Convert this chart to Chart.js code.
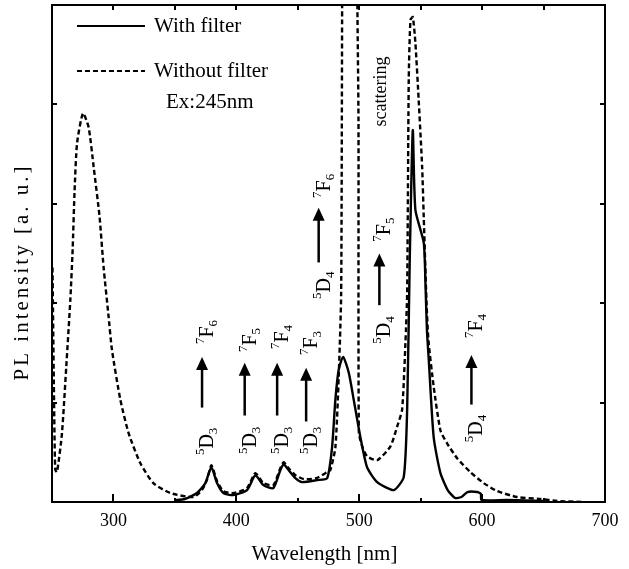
<!DOCTYPE html>
<html>
<head>
<meta charset="utf-8">
<script src="https://cdn.jsdelivr.net/npm/chart.js@4/dist/chart.umd.min.js"></script>
<style>
  html, body { margin: 0; padding: 0; background: #fff; }
  #wrap { width: 629px; height: 569px; position: relative; }
</style>
</head>
<body>
<div id="wrap"><canvas id="chart"></canvas></div>
<script>
// spectra (wavelength nm, intensity a.u.)
const withFilterX = [350, 358, 368, 374.8, 379.7, 384.3, 389.4, 397.6, 408.7, 415.5, 422, 430.1, 435.8, 438.5, 442.6, 448, 453.5, 465.7, 473.9, 477.9, 480.6, 483.3, 486.9, 491.5, 495.5, 501, 506.4, 514.6, 528.1, 536.2, 539, 541.1, 543.6, 545.7, 552.5, 553.9, 555.1, 556.6, 560.6, 566.1, 572, 578, 583, 588, 596, 599, 599.5, 620, 650];
const withFilterY = [0.02, 0.03, 0.09, 0.19, 0.35, 0.19, 0.09, 0.07, 0.12, 0.27, 0.17, 0.14, 0.32, 0.38, 0.32, 0.24, 0.2, 0.22, 0.24, 0.55, 1.03, 1.33, 1.46, 1.3, 1.03, 0.65, 0.35, 0.2, 0.12, 0.25, 0.93, 2.43, 3.74, 2.94, 2.61, 2.2, 1.73, 1.43, 0.65, 0.29, 0.12, 0.04, 0.05, 0.1, 0.1, 0.08, 0.02, 0.02, 0.01];

const withoutFilterX = [250.4, 251.5, 252.6, 254.1, 258.1, 261.6, 264.9, 266.8, 268.4, 270.4, 275.2, 279.8, 283.9, 288.7, 292, 296.1, 298.8, 305.6, 312.4, 321.9, 332.5, 346.3, 365, 372, 376, 379.7, 384.3, 389.4, 397.6, 408.7, 415.5, 422, 430.1, 435.8, 438.5, 442.6, 448, 455, 465, 473.9, 476.5, 480.6, 483.3, 485.3, 486.1, 487, 492, 498, 498.5, 499.4, 499.7, 502.4, 506.4, 514.6, 525.4, 530.9, 534.9, 537.6, 539, 540.3, 541.7, 543.6, 545.7, 548.4, 551.2, 552.5, 554.7, 556.3, 560.6, 566.1, 571.5, 579.7, 590.5, 601.3, 612.3, 628.5, 647.5, 661, 683];
const withoutFilterY = [2.36, 1.2, 0.33, 0.3, 0.69, 1.36, 2.03, 2.54, 3.14, 3.61, 3.91, 3.77, 3.37, 2.87, 2.36, 1.86, 1.53, 1.03, 0.69, 0.39, 0.19, 0.09, 0.05, 0.12, 0.22, 0.37, 0.21, 0.11, 0.09, 0.14, 0.29, 0.19, 0.17, 0.34, 0.4, 0.34, 0.27, 0.23, 0.24, 0.3, 0.32, 0.55, 1.26, 2.1, 5.0, 8, 9, 6, 5.0, 3.84, 0.7, 0.56, 0.46, 0.42, 0.56, 0.76, 0.93, 1.6, 2.1, 4.25, 4.85, 4.88, 4.62, 4.04, 3.37, 2.87, 2.03, 1.63, 1.16, 0.72, 0.59, 0.44, 0.3, 0.19, 0.11, 0.05, 0.03, 0.01, 0.0];

const xTickLabels = [300, 400, 500, 600, 700];
const xMinorTicks = [300, 350, 400, 450, 500, 550, 600, 650];
const yTicks = [1, 2, 3, 4];

// transitions: arrow at wavelength, from/to intensity, labels (upper, lower) with their centre intensity
const arrowX    = [372.1, 406.8, 433.2, 456.8, 467, 516.4, 591.3];
const arrowFrom = [0.95, 0.87, 0.87, 0.81, 2.41, 1.98, 0.98];
const arrowTo   = [1.46, 1.40, 1.40, 1.35, 2.96, 2.50, 1.48];
const upperLab  = [['7','F','6'], ['7','F','5'], ['7','F','4'], ['7','F','3'], ['7','F','6'], ['7','F','5'], ['7','F','4']];
const upperY    = [1.71, 1.63, 1.66, 1.60, 3.18, 2.74, 1.77];
const lowerLab  = [['5','D','3'], ['5','D','3'], ['5','D','3'], ['5','D','3'], ['5','D','4'], ['5','D','4'], ['5','D','4']];
const lowerY    = [0.61, 0.62, 0.62, 0.62, 2.18, 1.73, 0.74];

const SERIF = "'Liberation Serif', 'Times New Roman', serif";

function pts(xs, ys){ return xs.map((x, i) => ({ x: x, y: ys[i] })); }

// rotated label like 7F6 : sup + main + sub, reading bottom to top
function drawTerm(ctx, parts, cx, cy, baseOff){
  const big = '20px ' + SERIF, small = '13px ' + SERIF;
  ctx.save();
  ctx.translate(cx, cy);
  ctx.rotate(-Math.PI / 2);
  ctx.textBaseline = 'alphabetic';
  ctx.textAlign = 'left';
  ctx.font = small; const w1 = ctx.measureText(parts[0]).width;
  ctx.font = big;   const w2 = ctx.measureText(parts[1]).width;
  ctx.font = small; const w3 = ctx.measureText(parts[2]).width;
  let x = -(w1 + w2 + w3) / 2;
  ctx.font = small; ctx.fillText(parts[0], x, baseOff - 9); x += w1;
  ctx.font = big;   ctx.fillText(parts[1], x, baseOff); x += w2;
  ctx.font = small; ctx.fillText(parts[2], x, baseOff + 4);
  ctx.restore();
}

const decor = {
  id: 'decor',
  afterDatasetsDraw(chart){
    const { ctx, chartArea: a, scales: { x, y } } = chart;
    ctx.save();
    ctx.strokeStyle = '#000';
    ctx.fillStyle = '#000';

    // frame
    ctx.lineWidth = 2;
    ctx.strokeRect(a.left, a.top, a.right - a.left, a.bottom - a.top);

    // ticks pointing inwards
    ctx.beginPath();
    xMinorTicks.forEach(v => {
      const px = Math.round(x.getPixelForValue(v));
      const len = v % 100 === 0 ? 8 : 4;
      ctx.moveTo(px, a.bottom); ctx.lineTo(px, a.bottom - len);
      ctx.moveTo(px, a.top); ctx.lineTo(px, a.top + 5);
    });
    yTicks.forEach(v => {
      const py = Math.round(y.getPixelForValue(v));
      ctx.moveTo(a.left, py); ctx.lineTo(a.left + 5, py);
      ctx.moveTo(a.right, py); ctx.lineTo(a.right - 5, py);
    });
    ctx.stroke();

    // arrows and level labels
    arrowX.forEach((w, i) => {
      const px = x.getPixelForValue(w);
      const y0 = y.getPixelForValue(arrowFrom[i]);
      const y1 = y.getPixelForValue(arrowTo[i]);
      ctx.lineWidth = 2.5;
      ctx.beginPath(); ctx.moveTo(px, y0); ctx.lineTo(px, y1 + 10); ctx.stroke();
      ctx.beginPath();
      ctx.moveTo(px, y1); ctx.lineTo(px - 6, y1 + 13); ctx.lineTo(px + 6, y1 + 13);
      ctx.closePath(); ctx.fill();
      drawTerm(ctx, upperLab[i], px, y.getPixelForValue(upperY[i]), 11);
      drawTerm(ctx, lowerLab[i], px, y.getPixelForValue(lowerY[i]), 11);
    });

    // scattering note
    ctx.save();
    ctx.translate(x.getPixelForValue(517.3) + 6, y.getPixelForValue(4.13));
    ctx.rotate(-Math.PI / 2);
    ctx.font = '18px ' + SERIF;
    ctx.textAlign = 'center';
    ctx.textBaseline = 'alphabetic';
    ctx.fillText('scattering', 0, 0);
    ctx.restore();

    // legend
    const lx = a.left + 25, ly1 = a.top + 21, ly2 = a.top + 66;
    ctx.lineWidth = 2;
    ctx.beginPath(); ctx.moveTo(lx, ly1); ctx.lineTo(lx + 68, ly1); ctx.stroke();
    ctx.setLineDash([5, 3]);
    ctx.beginPath(); ctx.moveTo(lx, ly2); ctx.lineTo(lx + 68, ly2); ctx.stroke();
    ctx.setLineDash([]);
    ctx.font = '21px ' + SERIF;
    ctx.textAlign = 'left';
    ctx.textBaseline = 'middle';
    ctx.fillText('With filter', a.left + 102, ly1);
    ctx.fillText('Without filter', a.left + 102, ly2);
    ctx.fillText('Ex:245nm', a.left + 114, a.top + 97);

    // axis titles
    ctx.textAlign = 'center';
    ctx.fillText('Wavelength [nm]', (a.left + a.right) / 2 - 4, 554);
    ctx.save();
    ctx.translate(22, 272);
    ctx.rotate(-Math.PI / 2);
    ctx.letterSpacing = '3px';
    ctx.fillText('PL intensity [a. u.]', 0, 0);
    ctx.restore();

    ctx.restore();
  }
};

new Chart(document.getElementById('chart'), {
  type: 'line',
  data: {
    datasets: [
      { label: 'With filter', data: pts(withFilterX, withFilterY), borderColor: '#000', borderWidth: 2.4, pointRadius: 0, tension: 0.2 },
      { label: 'Without filter', data: pts(withoutFilterX, withoutFilterY), borderColor: '#000', borderWidth: 2.4, borderDash: [5, 3], pointRadius: 0, tension: 0.2 }
    ]
  },
  options: {
    responsive: true, maintainAspectRatio: false, animation: false,
    layout: { padding: { left: 0, top: 5, right: 24, bottom: 0 } },
    plugins: { legend: { display: false }, tooltip: { enabled: false } },
    scales: {
      x: {
        type: 'linear', min: 250, max: 700,
        grid: { display: false, drawTicks: false },
        border: { display: false },
        afterBuildTicks: s => { s.ticks = xTickLabels.map(v => ({ value: v })); },
        afterFit: s => { s.height = 67; },
        ticks: { padding: 8, color: '#000', font: { family: SERIF, size: 18 } }
      },
      y: {
        min: 0, max: 5,
        grid: { display: false, drawTicks: false },
        border: { display: false },
        ticks: { display: false },
        afterFit: s => { s.width = 52; }
      }
    }
  },
  plugins: [decor]
});
</script>
</body>
</html>
